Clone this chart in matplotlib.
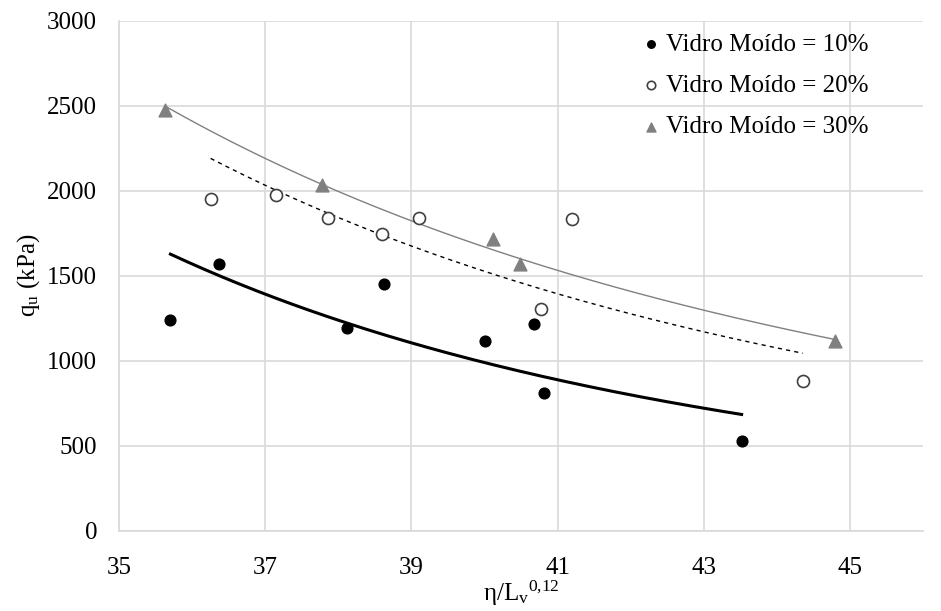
import numpy as np
import matplotlib
matplotlib.use("Agg")
import matplotlib.pyplot as plt

plt.rcParams.update({
    "font.family": "Liberation Serif",
    "font.size": 18,
    "mathtext.fontset": "custom",
    "mathtext.rm": "Liberation Serif",
    "mathtext.it": "Liberation Serif:italic",
})

# eta/Lv^0.12 and qu (kPa) per glass content
x10 = [35.70, 36.36, 38.12, 38.62, 40.00, 40.68, 40.82, 43.52]
y10 = [1240, 1570, 1190, 1450, 1115, 1215, 810, 525]
x20 = [36.25, 37.15, 37.86, 38.60, 39.10, 40.78, 41.20, 44.36]
y20 = [1950, 1975, 1840, 1748, 1840, 1303, 1835, 880]
x30 = [35.63, 37.77, 40.12, 40.49, 44.80]
y30 = [2475, 2035, 1715, 1570, 1115]
labels = ["Vidro Moído = 10%", "Vidro Moído = 20%", "Vidro Moído = 30%"]


def power_fit(x, y):
    # Excel-style power trendline: linear fit in log-log space
    b, lna = np.polyfit(np.log(x), np.log(y), 1)
    xs = np.linspace(min(x), max(x), 200)
    return xs, np.exp(lna) * xs ** b


fig = plt.figure(figsize=(9.41, 6.11), dpi=100)
ax = fig.add_axes([0.1268, 0.1314, 0.8538, 0.8347])

grid = "#d9d9d9"
ax.scatter(x10, y10, s=60, marker="o", color="black", zorder=3, label=labels[0])
ax.scatter(x20, y20, s=75, marker="o", facecolor="white", edgecolor="#404040",
           linewidth=1.2, zorder=3, label=labels[1])
ax.scatter(x30, y30, s=85, marker="^", color="#808080", zorder=3, label=labels[2])

xs, ys = power_fit(x10, y10)
ax.plot(xs, ys, color="black", lw=2.2, zorder=2)
xs, ys = power_fit(x20, y20)
ax.plot(xs, ys, color="black", lw=1.0, ls=(0, (3, 3)), zorder=2)
xs, ys = power_fit(x30, y30)
ax.plot(xs, ys, color="#808080", lw=1.0, zorder=2)

ax.set_xlim(35, 46)
ax.set_ylim(0, 3000)
ax.set_xticks([35, 37, 39, 41, 43, 45])
ax.set_yticks(np.arange(0, 3001, 500))
ax.grid(True, color=grid, lw=1.2, zorder=0)
ax.set_axisbelow(True)
for side in ["top", "right"]:
    ax.spines[side].set_visible(False)
for side in ["left", "bottom"]:
    ax.spines[side].set_color(grid)
    ax.spines[side].set_linewidth(1.2)
ax.tick_params(axis="both", length=0)
ax.tick_params(axis="x", pad=19)
ax.tick_params(axis="y", pad=16)

ax.set_xlabel(r"η/L$_\mathrm{v}$$^\mathrm{0{,}12}$", labelpad=0)
ax.set_ylabel(r"q$_\mathrm{u}$ (kPa)", labelpad=4)

ax.legend(loc="upper right", bbox_to_anchor=(0.954, 1.01), frameon=False,
          handlelength=0.8, handletextpad=0.2, labelspacing=0.75,
          markerscale=0.7, borderaxespad=0.3)

fig.savefig("out.png", dpi=100, facecolor="white")
